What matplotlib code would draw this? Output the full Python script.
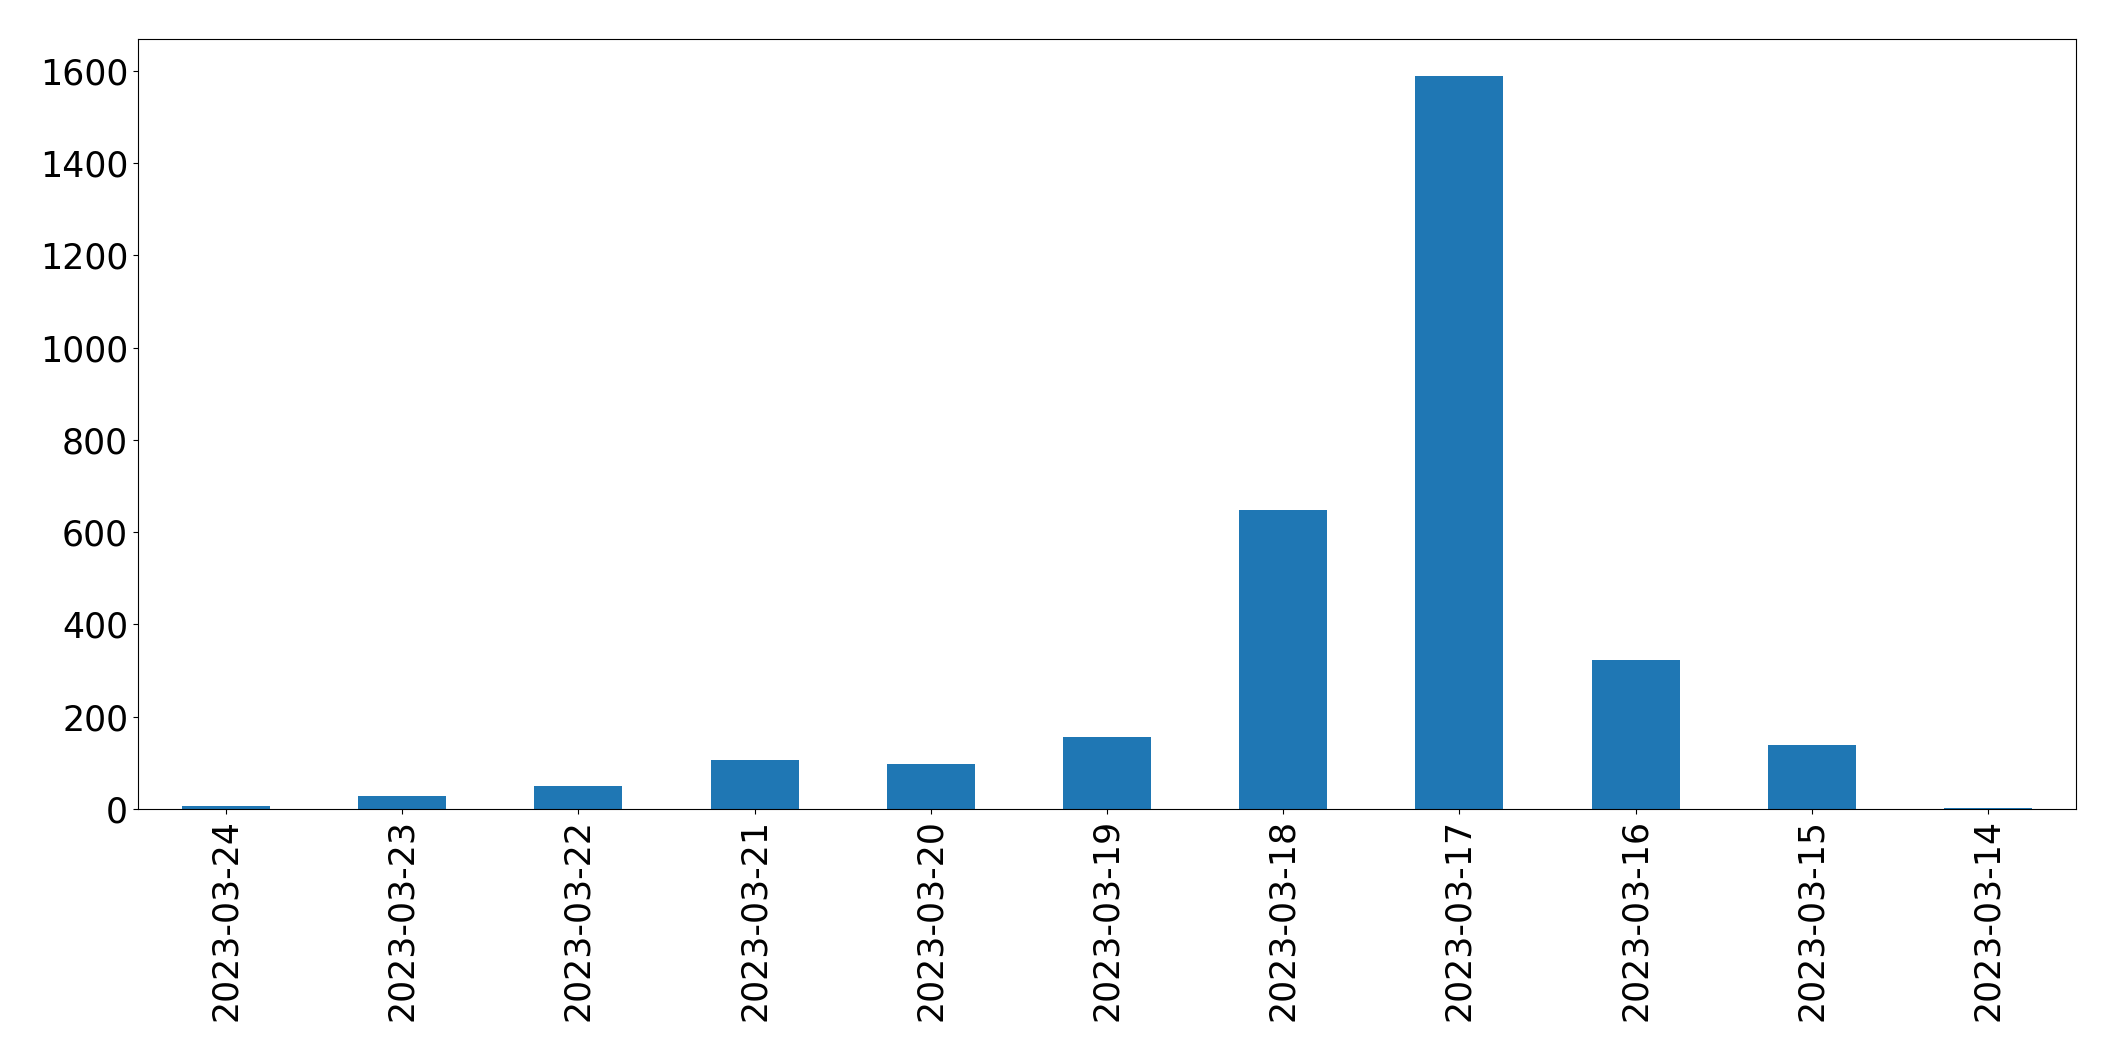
import matplotlib
matplotlib.use("Agg")
from matplotlib import pyplot as plt
import numpy as np

dates = ["2023-03-24", "2023-03-23", "2023-03-22", "2023-03-21", "2023-03-20",
         "2023-03-19", "2023-03-18", "2023-03-17", "2023-03-16", "2023-03-15",
         "2023-03-14"]
counts = [7, 28, 50, 106, 97, 156, 648, 1589, 322, 139, 2]

fig = plt.figure(figsize=(21.15, 10.61), dpi=100)
ax = fig.add_axes([0.0652, 0.2375, 0.9164, 0.7257])

x = np.arange(len(dates))
ax.bar(x, counts, width=0.5, color="#1f77b4")
ax.set_xlim(-0.5, len(dates) - 0.5)
ax.set_xticks(x)
ax.set_xticklabels(dates, rotation=90)
ax.tick_params(axis="both", labelsize=25)

fig.savefig("out.png", dpi=100)
